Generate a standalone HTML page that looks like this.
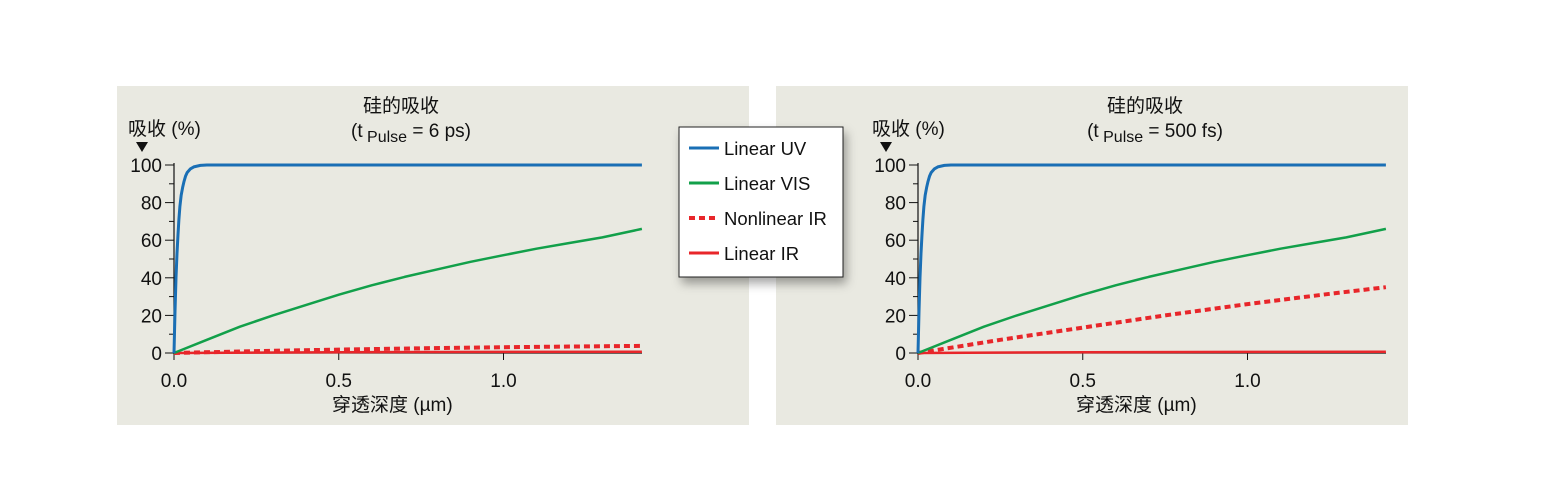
<!DOCTYPE html>
<html><head><meta charset="utf-8"><style>
body{margin:0;background:#fff;font-family:"Liberation Sans","Noto Sans CJK SC",sans-serif}
svg text{font-family:"Liberation Sans","Noto Sans CJK SC",sans-serif;fill:#111}
</style></head><body>
<svg id="chart" width="1545" height="486" viewBox="0 0 1545 486">
<defs><filter id="sh" x="-20%" y="-20%" width="150%" height="150%"><feDropShadow dx="3" dy="6" stdDeviation="5" flood-color="#000" flood-opacity="0.35"/></filter></defs>
<rect x="117" y="86" width="632" height="339" fill="#e9e9e1"/>
<rect x="776" y="86" width="632" height="339" fill="#e9e9e1"/>
<g id="left"></g>
<g id="right"></g>
<g>
<rect x="679" y="127" width="164" height="150" fill="#fff" stroke="#222" stroke-width="1" filter="url(#sh)"/>
<g><line x1="689" y1="148" x2="719" y2="148" stroke="#1a6fb5" stroke-width="3"/><text x="724" y="155" font-size="18.5">Linear UV</text></g>
<g><line x1="689" y1="183" x2="719" y2="183" stroke="#12a04a" stroke-width="3"/><text x="724" y="190" font-size="18.5">Linear VIS</text></g>
<g><line x1="689" y1="218" x2="719" y2="218" stroke="#e8262a" stroke-width="4" stroke-dasharray="6,4"/><text x="724" y="225" font-size="18.5">Nonlinear IR</text></g>
<g><line x1="689" y1="253" x2="719" y2="253" stroke="#e8262a" stroke-width="3"/><text x="724" y="260" font-size="18.5">Linear IR</text></g>
</g>
</svg>
<script>
const uvX=[0,0.003,0.006,0.009,0.012,0.015,0.018,0.022,0.026,0.03,0.035,0.04,0.05,0.06,0.08,0.1,1.42];
const uvY=[0,22,40,53,63,71,78,84,88,91,94,96,98,99,99.8,100,100];
const visX=[0,0.1,0.2,0.3,0.4,0.5,0.6,0.7,0.8,0.9,1.0,1.1,1.2,1.3,1.42];
const visY=[0,7,14,20,25.5,31,36,40.5,44.5,48.5,52,55.5,58.5,61.5,66];
const nlX=[0,0.25,0.5,0.75,1.0,1.25,1.42];
const nlLeftY=[0,1,1.8,2.5,3.1,3.5,3.8];
const nlRightY=[0,7,13.5,20,26,31.5,35];
const irX=[0,0.5,1.0,1.42];
const irY=[0,0.4,0.6,0.7];
const yTicks=[0,20,40,60,80,100];
const xTicks=["0.0","0.5","1.0"];
const xTickVals=[0,0.5,1.0];
const NS="http://www.w3.org/2000/svg";
function mk(p,t,a){const e=document.createElementNS(NS,t);for(const k in a)e.setAttribute(k,a[k]);p.appendChild(e);return e;}
function build(gid,x0,title2,nlY){
 const g=document.getElementById(gid);
 const sx=v=>x0+v*329.5, sy=v=>353-v*1.88;
 const xEnd=x0+468;
 let t=mk(g,'text',{x:x0+227,y:112,'font-size':19,'text-anchor':'middle'});t.textContent='硅的吸收';
 
 
 t=mk(g,'text',{x:x0+237,y:137,'font-size':19,'text-anchor':'middle'});
 
 
 t.innerHTML='(t<tspan font-size="16" dy="5"> Pulse</tspan><tspan dy="-5"> = '+title2+')</tspan>';
 t=mk(g,'text',{x:x0-46,y:135,'font-size':19});t.textContent='吸收 (%)';
 
 
 const tri=mk(g,'path',{d:`M${x0-38} 142 L${x0-26} 142 L${x0-32} 152 Z`,fill:'#111'});
 
 
 const ax=mk(g,'path',{d:`M${x0} 163 V${sy(0)} H${xEnd}`,stroke:'#111','stroke-width':1.2,fill:'none'});
 
 
 for(let v=0;v<=100;v+=10){mk(g,'line',{x1:x0-(v%20?5:9),x2:x0,y1:sy(v),y2:sy(v),stroke:'#111','stroke-width':1});}
 yTicks.forEach(v=>{const e=mk(g,'text',{x:x0-12,y:sy(v)+7,'font-size':19,'text-anchor':'end'});e.textContent=v;
  
  });
 xTickVals.forEach((v,i)=>{mk(g,'line',{x1:sx(v),x2:sx(v),y1:sy(0),y2:sy(0)+7,stroke:'#111'});
  const e=mk(g,'text',{x:sx(v),y:387,'font-size':19,'text-anchor':'middle'});e.textContent=xTicks[i];
  
  });
 t=mk(g,'text',{x:x0+158,y:411,'font-size':19});t.textContent='穿透深度 (µm)';
 
 
 const line=(xs,ys,col,w,dash,name)=>{const e=mk(g,'path',{d:xs.map((x,i)=>(i?'L':'M')+sx(x).toFixed(1)+' '+sy(ys[i]).toFixed(1)).join(' '),stroke:col,'stroke-width':w,fill:'none','stroke-dasharray':dash||'none','stroke-linejoin':'round'});
  
  };
 line(irX,irY,'#e8262a',2.5,null,'line-linear-ir');
 line(nlX,nlY,'#e8262a',4,'6,4','line-nonlinear-ir');
 line(visX,visY,'#12a04a',2.5,null,'line-linear-vis');
 line(uvX,uvY,'#1a6fb5',3,null,'line-linear-uv');
}
build('left',174,'6 ps',nlLeftY);
build('right',918,'500 fs',nlRightY);
</script>
</body></html>
